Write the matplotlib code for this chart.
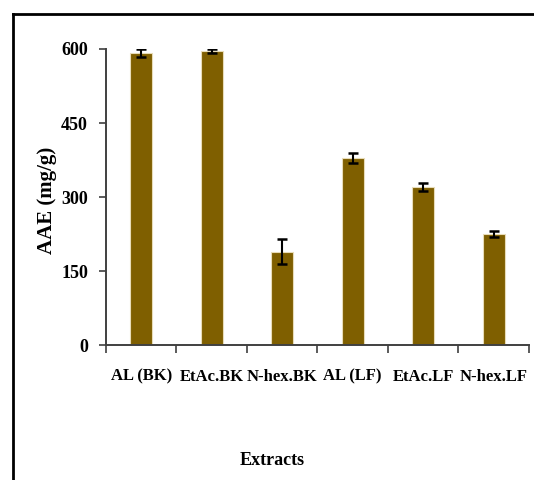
import matplotlib
matplotlib.use("Agg")
import matplotlib.pyplot as plt
from matplotlib.lines import Line2D
from matplotlib.ticker import FixedLocator, NullFormatter

extracts = ["AL (BK)", "EtAc.BK", "N-hex.BK", "AL (LF)", "EtAc.LF", "N-hex.LF"]
aae = [592, 596, 189, 379, 320, 225]
aae_err = [8, 4, 25, 11, 8, 6]
y_ticks = [0, 150, 300, 450, 600]

BAR_COLOR = "#7f5f00"
FONT = "Liberation Serif"

plt.rcParams["font.family"] = [FONT, "DejaVu Serif"]
plt.rcParams["font.weight"] = "bold"

fig = plt.figure(figsize=(5.34, 4.8), dpi=100)
ax = fig.add_axes([0.1985, 0.281, 0.792, 0.617])

pos = list(range(len(extracts)))
ax.bar(pos, aae, width=0.31, color=BAR_COLOR, edgecolor="#e8dcb8",
       linewidth=0.8, zorder=2)
ax.errorbar(pos, aae, yerr=aae_err, fmt="none", ecolor="black",
            elinewidth=1.5, capsize=3.5, capthick=1.8, zorder=3)

ax.set_xlim(-0.5, len(extracts) - 0.5)
ax.set_ylim(0, 600)

# boundary ticks on the x axis, labels sit at the bar centres
ax.xaxis.set_major_locator(FixedLocator([p - 0.5 for p in range(len(extracts) + 1)]))
ax.xaxis.set_major_formatter(NullFormatter())
ax.xaxis.set_minor_locator(FixedLocator(pos))
ax.set_xticklabels(extracts, minor=True, fontsize=12, fontweight="bold")
ax.tick_params(axis="x", which="major", direction="out", length=6, width=1.2,
               color="#404040")
ax.tick_params(axis="x", which="minor", length=0, pad=17)

ax.set_yticks(y_ticks)
ax.set_yticklabels([str(v) for v in y_ticks], fontsize=13, fontweight="bold")
ax.tick_params(axis="y", direction="out", length=5, width=1.2, color="#404040",
               pad=8)

for side in ["top", "right"]:
    ax.spines[side].set_visible(False)
for side in ["left", "bottom"]:
    ax.spines[side].set_color("#404040")
    ax.spines[side].set_linewidth(1.4)

fig.text(0.088, 0.583, "AAE (mg/g)", rotation=90, ha="center", va="center",
         fontsize=15, fontweight="bold")
fig.text(0.51, 0.04, "Extracts", ha="center", va="center",
         fontsize=13, fontweight="bold")

# outer frame: top and left edges only
fig.add_artist(Line2D([0.0245, 1.0], [0.971, 0.971], color="black",
                      linewidth=2, transform=fig.transFigure))
fig.add_artist(Line2D([0.0245, 0.0245], [0.0, 0.971], color="black",
                      linewidth=2, transform=fig.transFigure))

fig.savefig("out.png", dpi=100)
